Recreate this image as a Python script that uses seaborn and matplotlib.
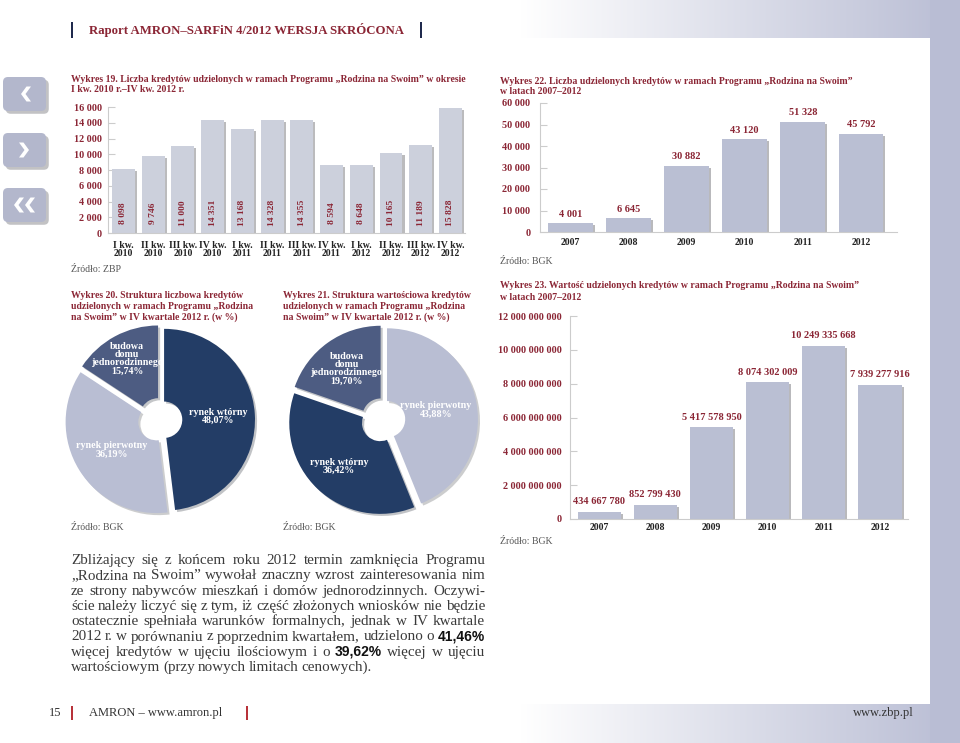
import numpy as np
import matplotlib
matplotlib.use('Agg')
import matplotlib.pyplot as plt
import matplotlib.patheffects as pe
from matplotlib.colors import LinearSegmentedColormap
from matplotlib.patches import FancyBboxPatch, Polygon, Rectangle
import pandas as pd
import seaborn as sns

sns.set_theme(style="white")
plt.rcParams['font.family'] = ['Liberation Serif', 'DejaVu Serif']

# --- data ---
kw_labels = ['I kw.\n2010', 'II kw.\n2010', 'III kw.\n2010', 'IV kw.\n2010',
             'I kw.\n2011', 'II kw.\n2011', 'III kw.\n2011', 'IV kw.\n2011',
             'I kw.\n2012', 'II kw.\n2012', 'III kw.\n2012', 'IV kw.\n2012']
kw_counts = [8098, 9746, 11000, 14351, 13168, 14328, 14355, 8594, 8648, 10165, 11189, 15828]

years = ['2007', '2008', '2009', '2010', '2011', '2012']
year_counts = [4001, 6645, 30882, 43120, 51328, 45792]
year_values = [434667780, 852799430, 5417578950, 8074302009, 10249335668, 7939277916]

# pie slices, clockwise from 12 o'clock
count_parts = ['rynek wtórny', 'rynek pierwotny', 'budowa\ndomu\njednorodzinnego']
count_shares = [48.07, 36.19, 15.74]
value_parts = ['rynek pierwotny', 'rynek wtórny', 'budowa\ndomu\njednorodzinnego']
value_shares = [43.88, 36.42, 19.70]

W, H = 960, 743
RED = '#8b2635'
NAVY = '#1f2a4d'
LAV = '#b9bdd4'
part_colors = {'rynek wtórny': '#233d66', 'rynek pierwotny': '#b9bed3',
               'budowa\ndomu\njednorodzinnego': '#4d5c82'}

fig = plt.figure(figsize=(W / 100, H / 100), dpi=100)
fig.patch.set_facecolor('white')


def px_axes(left, top, width, height, **kw):
    return fig.add_axes([left / W, 1 - (top + height) / H, width / W, height / H], **kw)


def fmt(v):
    return f"{v:,}".replace(",", " ")


# background / page decoration, in pixel coordinates
bg = px_axes(0, 0, W, H, zorder=-10)
grad = LinearSegmentedColormap.from_list('g', ['white', LAV])
ramp = np.linspace(0, 1, 256)[None, :]
bg.imshow(ramp, cmap=grad, extent=(520, 960, 38, 0), aspect='auto')
bg.imshow(ramp, cmap=grad, extent=(520, 960, 743, 704), aspect='auto')
bg.add_patch(Rectangle((930, 0), 30, 743, color=LAV, lw=0))
bg.set_xlim(0, W)
bg.set_ylim(H, 0)
bg.axis('off')

# header
bg.add_patch(Rectangle((71, 22), 2, 16, color=NAVY, lw=0))
bg.add_patch(Rectangle((420, 22), 2, 16, color=NAVY, lw=0))
bg.text(89, 30, 'Raport AMRON–SARFiN 4/2012 WERSJA SKRÓCONA', color=RED,
        fontsize=9.2, fontweight='bold', va='center')

# navigation buttons
shadow = [pe.SimplePatchShadow(offset=(2, -2), alpha=0.3), pe.Normal()]


def chevron(cx, cy, d, w=10, h=15, t=4.5):
    pts = [(w / 2 - t, -h / 2), (w / 2, -h / 2), (-w / 2 + t, 0),
           (w / 2, h / 2), (w / 2 - t, h / 2), (-w / 2, 0)]
    return Polygon([(cx + d * x, cy + y) for x, y in pts], closed=True, color='white', lw=0)


for top, kind in [(77, 'l'), (133, 'r'), (188, 'll')]:
    b = FancyBboxPatch((3, top), 43, 34, boxstyle='round,pad=0,rounding_size=5',
                       facecolor='#b3b7cc', edgecolor='none')
    b.set_path_effects(shadow)
    bg.add_patch(b)
    cy = top + 17
    if kind == 'l':
        bg.add_patch(chevron(26, cy, 1))
    elif kind == 'r':
        bg.add_patch(chevron(24, cy, -1))
    else:
        bg.add_patch(chevron(19, cy, 1))
        bg.add_patch(chevron(30, cy, 1))


def title(x, y0, lines, step=10.5):
    for i, s in enumerate(lines):
        bg.text(x, y0 + i * step, s, color=RED, fontsize=7.0, fontweight='bold', va='center')


def source(x, y, s):
    bg.text(x, y, s, color='#555555', fontsize=7, va='center')


title(71, 80, ['Wykres 19. Liczba kredytów udzielonych w ramach Programu „Rodzina na Swoim” w okresie',
               'I kw. 2010 r.–IV kw. 2012 r.'], step=10)
title(500, 81, ['Wykres 22. Liczba udzielonych kredytów w ramach Programu „Rodzina na Swoim”',
                'w latach 2007–2012'], step=10)
title(71, 296, ['Wykres 20. Struktura liczbowa kredytów',
                'udzielonych w ramach Programu „Rodzina',
                'na Swoim” w IV kwartale 2012 r. (w %)'])
title(283, 296, ['Wykres 21. Struktura wartościowa kredytów',
                 'udzielonych w ramach Programu „Rodzina',
                 'na Swoim” w IV kwartale 2012 r. (w %)'])
title(500, 286, ['Wykres 23. Wartość udzielonych kredytów w ramach Programu „Rodzina na Swoim”',
                 'w latach 2007–2012'], step=11)
source(71, 269, 'Źródło: ZBP')
source(500, 262, 'Źródło: BGK')
source(71, 527, 'Źródło: BGK')
source(283, 527, 'Źródło: BGK')
source(500, 542, 'Źródło: BGK')

bar_shadow = [pe.SimplePatchShadow(offset=(1.5, -1.5), alpha=0.35), pe.Normal()]


def style_bars(ax, ypad, xpad, ymax, ystep):
    ax.set_facecolor('none')
    sns.despine(ax=ax)
    for s in ['left', 'bottom']:
        ax.spines[s].set_color('#cccccc')
        ax.spines[s].set_linewidth(0.8)
    ax.set_ylim(0, ymax)
    ticks = np.arange(0, ymax + 1, ystep)
    ax.set_yticks(ticks)
    ax.set_yticklabels([fmt(int(t)) for t in ticks])
    ax.tick_params(axis='y', left=True, direction='in', length=5, width=0.8,
                   color='#cccccc', pad=ypad, labelcolor=RED, labelsize=7.3)
    ax.tick_params(axis='x', bottom=False, length=0, pad=xpad, labelsize=7, labelcolor='#222222')
    for lbl in ax.get_yticklabels() + ax.get_xticklabels():
        lbl.set_fontweight('bold')
    ax.set_xlabel('')
    ax.set_ylabel('')
    for p in ax.patches:
        p.set_path_effects(bar_shadow)


# Wykres 19
ax19 = px_axes(108, 107, 357, 126)
df19 = pd.DataFrame({'kw': kw_labels, 'n': kw_counts})
sns.barplot(data=df19, x='kw', y='n', color='#ccd0dc', saturation=1, width=0.77,
            linewidth=0, errorbar=None, ax=ax19)
ax19.set_xlim(-0.52, 11.49)
style_bars(ax19, 4.3, 5.5, 16000, 2000)
for lbl in ax19.get_xticklabels():
    lbl.set_linespacing(0.95)
for i, v in enumerate(kw_counts):
    ax19.text(i, 2550, fmt(v), rotation=90, ha='center', va='center', color=RED,
              fontsize=6.8, fontweight='bold')

# Wykres 22
ax22 = px_axes(540, 103, 357, 129)
df22 = pd.DataFrame({'rok': years, 'n': year_counts})
sns.barplot(data=df22, x='rok', y='n', color='#babfd3', saturation=1, width=0.77,
            linewidth=0, errorbar=None, ax=ax22)
ax22.set_xlim(-0.52, 5.62)
style_bars(ax22, 7, 4, 60000, 10000)
ax22.bar_label(ax22.containers[0], labels=[fmt(v) for v in year_counts], padding=3,
               color=RED, fontsize=7.5, fontweight='bold')

# Wykres 23
ax23 = px_axes(570, 316, 338, 203)
df23 = pd.DataFrame({'rok': years, 'v': year_values})
sns.barplot(data=df23, x='rok', y='v', color='#babfd3', saturation=1, width=0.77,
            linewidth=0, errorbar=None, ax=ax23)
ax23.set_xlim(-0.52, 5.5)
style_bars(ax23, 5.8, 3, 12_000_000_000, 2_000_000_000)
ax23.bar_label(ax23.containers[0], labels=[fmt(v) for v in year_values], padding=4,
               color=RED, fontsize=7.5, fontweight='bold')


# donuts
def donut(cx, cy, parts, shares, dists):
    ax = px_axes(cx - 100, cy - 100, 200, 200)
    wedges, _ = ax.pie(shares, colors=[part_colors[p] for p in parts], startangle=90,
                       counterclock=False, radius=1, explode=[0.045] * len(shares),
                       wedgeprops=dict(width=0.8, linewidth=0))
    for w in wedges:
        w.set_path_effects([pe.SimplePatchShadow(offset=(1.5, -1.5), alpha=0.25), pe.Normal()])
    for w, p, s, r in zip(wedges, parts, shares, dists):
        a = np.deg2rad((w.theta1 + w.theta2) / 2)
        x = w.center[0] + r * np.cos(a)
        y = w.center[1] + r * np.sin(a)
        ax.text(x, y, p + '\n' + f"{s:.2f}".replace('.', ',') + '%', ha='center', va='center',
                color='white', fontsize=7.2, fontweight='bold', linespacing=0.9)
    ax.set_xlim(-1.1, 1.1)
    ax.set_ylim(-1.1, 1.1)
    ax.set_aspect('equal')
    ax.axis('off')


donut(160, 420, count_parts, count_shares, [0.6, 0.58, 0.72])
donut(383, 420, value_parts, value_shares, [0.55, 0.66, 0.65])

# body text, justified
body = [
    "Zbliżający się z końcem roku 2012 termin zamknięcia Programu",
    "„Rodzina na Swoim” wywołał znaczny wzrost zainteresowania nim",
    "ze strony nabywców mieszkań i domów jednorodzinnych. Oczywi-",
    "ście należy liczyć się z tym, iż część złożonych wniosków nie będzie",
    "ostatecznie spełniała warunków formalnych, jednak w IV kwartale",
    "2012 r. w porównaniu z poprzednim kwartałem, udzielono o **41,46%**",
    "więcej kredytów w ujęciu ilościowym i o **39,62%** więcej w ujęciu",
    "wartościowym (przy nowych limitach cenowych).",
]
renderer = fig.canvas.get_renderer()
x0, x1 = 71, 485


def word_text(x, y, w):
    if w.startswith('**'):
        return bg.text(x, y, w.strip('*'), fontsize=10, fontweight='bold',
                       family=['Liberation Sans', 'DejaVu Sans'], color='#111111', va='baseline')
    return bg.text(x, y, w, fontsize=10.9, color='#3a3a3a', va='baseline')


for i, line in enumerate(body):
    y = 564 + i * 15.3
    words = line.split(' ')
    texts = [word_text(0, y, w) for w in words]
    widths = [t.get_window_extent(renderer).width for t in texts]
    if i < len(body) - 1:
        gap = max((x1 - x0 - sum(widths)) / (len(words) - 1), 1.5)
    else:
        gap = 3.0
    x = x0
    for t, wd in zip(texts, widths):
        t.set_x(x)
        x += wd + gap

# footer
bg.text(61, 713, '15', ha='right', va='center', fontsize=9, color='#333333')
bg.add_patch(Rectangle((71, 706), 2, 14, color='#b8323a', lw=0))
bg.text(89, 713, 'AMRON – www.amron.pl', va='center', fontsize=9, color='#333333')
bg.add_patch(Rectangle((246, 706), 2, 14, color='#b8323a', lw=0))
bg.text(914, 713, 'www.zbp.pl', ha='right', va='center', fontsize=9, color='#333333')

fig.savefig('out.png', dpi=100)
